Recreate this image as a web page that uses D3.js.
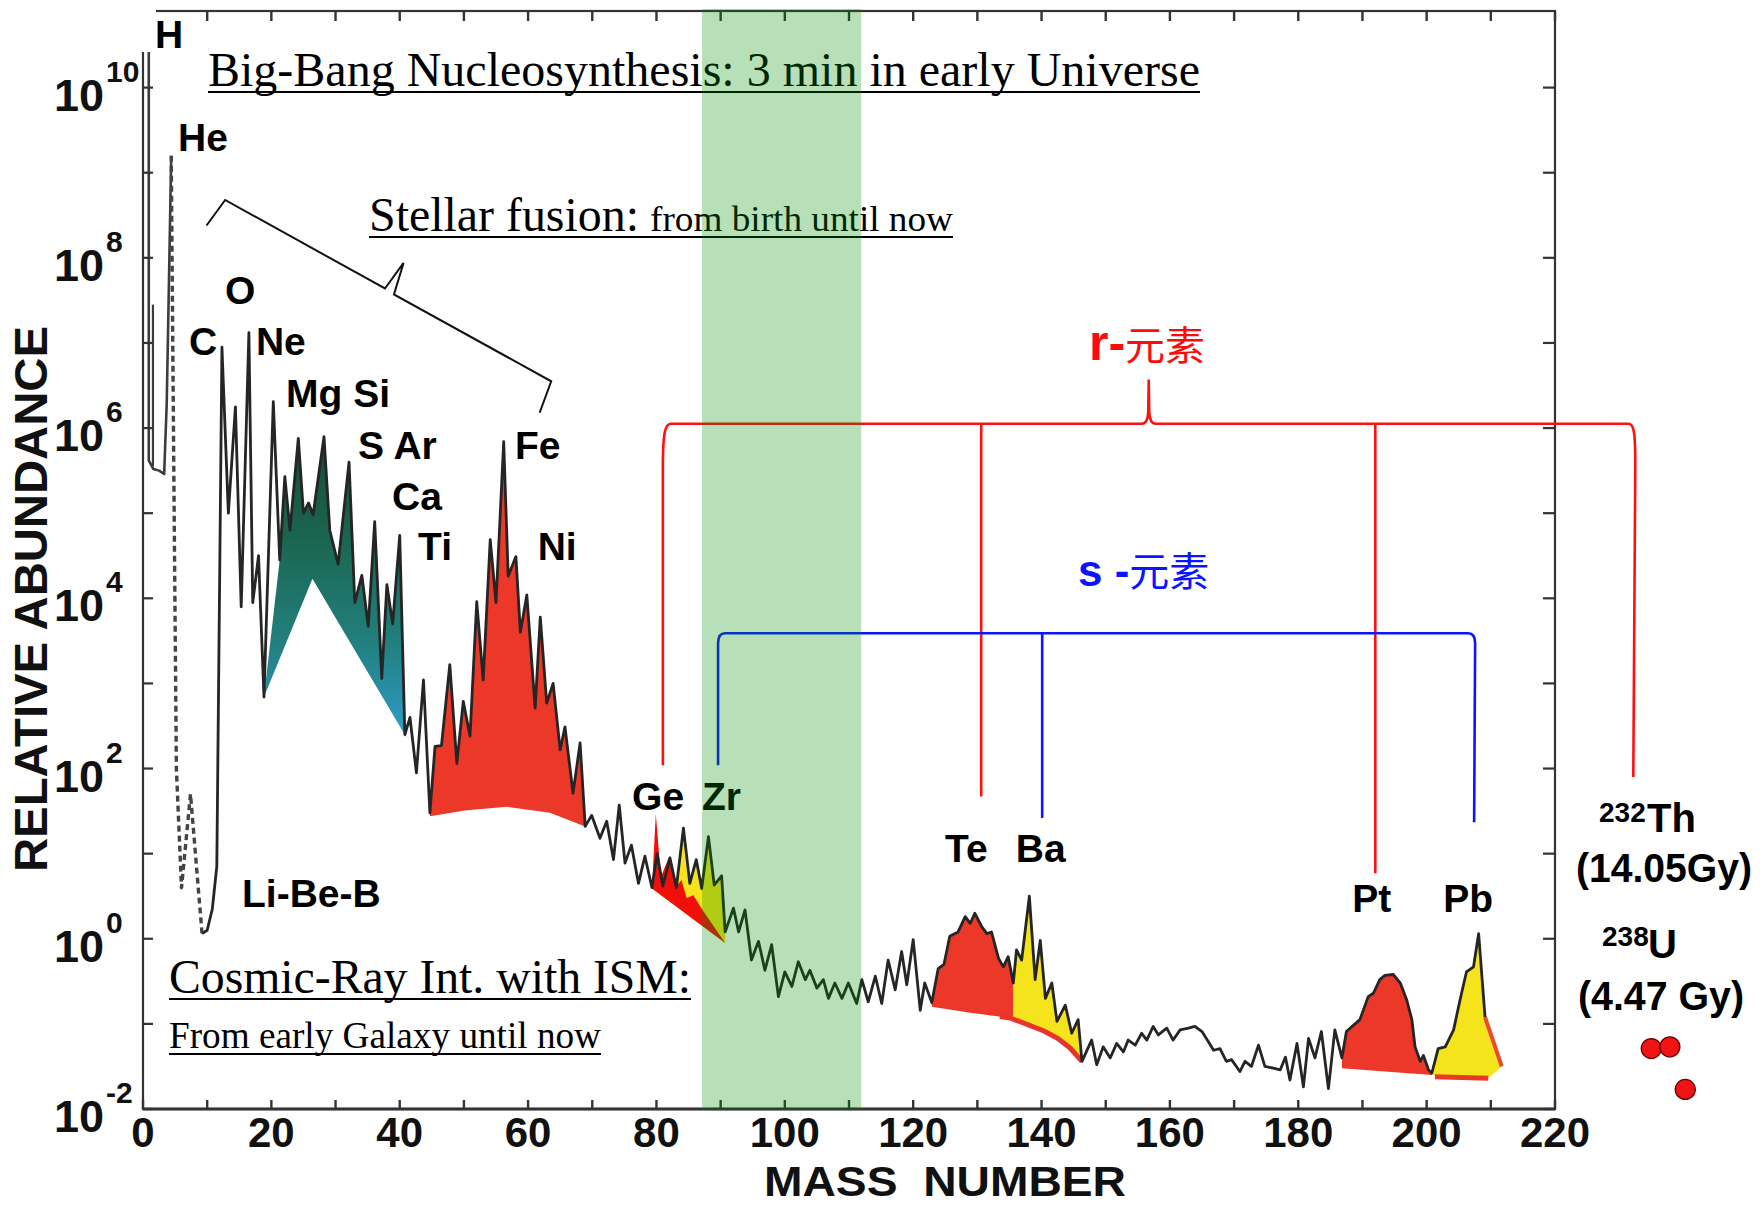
<!DOCTYPE html>
<html>
<head>
<meta charset="utf-8">
<script src="https://cdn.jsdelivr.net/npm/d3@7"></script>
<style>
  html, body { margin: 0; padding: 0; background: #fff; }
  svg { display: block; }
</style>
</head>
<body>
<svg id="chart" width="1764" height="1205"></svg>
<script>
// ---------- axis values ----------
const massTicks = [0, 10, 20, 30, 40, 50, 60, 70, 80, 90, 100, 110, 120, 130, 140, 150, 160, 170, 180, 190, 200, 210, 220];
const massLabels = [0, 20, 40, 60, 80, 100, 120, 140, 160, 180, 200, 220];
const decadeTicks = [-2, -1, 0, 1, 2, 3, 4, 5, 6, 7, 8, 9, 10];
const decadeLabels = [-2, 0, 2, 4, 6, 8, 10];

// ---------- abundance curve: [mass number, log10 relative abundance] ----------
const hydrogenSpike = [[0.9, 10.9], [0.9, 5.62], [1.6, 5.52], [2.5, 5.5], [3.3, 5.46], [3.7, 6.3], [4.4, 9.2]];
const deuteriumStroke = [[1.55, 7.45], [1.55, 5.55]];
const lithiumBerylliumDashed = [[4.4, 9.2], [4.8, 5.5], [5.2, 2.0], [6.0, 0.6], [7.4, 1.7], [9.2, 0.06]];

const lightElements = [
  [9.2, 0.06], [10.0, 0.1], [10.8, 0.35], [11.5, 0.85], [12.3, 6.95],
  [13.3, 5.0], [14.4, 6.25], [15.3, 3.9], [16.5, 7.12], [17.1, 3.95], [18.0, 4.5], [18.85, 2.84]
];
const alphaElements = [
  [20.3, 6.31], [21.3, 4.45], [22.1, 5.43], [22.9, 4.8], [24.2, 5.88], [25.0, 5.0], [25.8, 5.12], [26.5, 4.98],
  [28.2, 5.9], [29.1, 4.8], [30.4, 4.4], [32.1, 5.6], [33.0, 3.95], [34.1, 4.27], [35.1, 3.67], [36.1, 4.9],
  [37.2, 3.06], [38.0, 4.16], [38.9, 3.7], [40.0, 4.74], [40.8, 2.4], [41.6, 2.6], [42.6, 1.95], [43.7, 3.04]
];
const ironPeak = [
  [44.7, 1.48], [45.5, 2.26], [46.5, 2.27], [47.8, 3.22], [48.9, 2.06], [49.9, 2.79], [50.95, 2.38], [52.0, 3.96],
  [53.0, 3.04], [54.1, 4.69], [55.0, 3.95], [56.2, 5.84], [56.9, 4.26], [58.1, 4.49], [58.8, 3.6], [59.8, 4.04],
  [61.1, 2.71], [61.9, 3.78], [62.9, 2.77], [63.9, 3.0], [65.0, 2.22], [65.75, 2.49], [67.0, 1.71], [68.1, 2.3],
  [68.9, 1.32]
];
const firstPeakRegion = [
  [69.9, 1.45], [71.2, 1.18], [72.25, 1.38], [73.3, 0.93], [74.2, 1.57], [75.1, 0.89], [76.1, 1.1],
  [77.2, 0.65], [78.2, 0.97], [79.3, 0.6], [80.1, 1.0], [81.0, 0.62], [82.1, 0.95], [83.1, 0.6], [84.2, 1.3],
  [85.2, 0.65], [86.2, 0.93], [87.05, 0.59], [88.1, 1.2], [89.0, 0.63], [90.15, 0.74], [90.7, 0.08], [92.0, 0.36],
  [92.8, 0.08], [93.8, 0.34], [94.8, -0.25], [95.9, -0.03], [96.9, -0.37], [97.95, -0.07], [99.0, -0.68], [100.0, -0.39],
  [101.1, -0.56], [102.1, -0.27], [103.2, -0.48], [103.9, -0.37], [105.0, -0.58], [106.0, -0.48], [106.8, -0.7], [107.8, -0.52],
  [108.9, -0.7], [109.9, -0.52], [111.2, -0.76], [112.0, -0.48], [113.0, -0.74], [114.1, -0.44], [115.1, -0.76], [116.1, -0.25],
  [117.2, -0.6], [118.2, -0.15], [119.0, -0.54], [120.0, -0.01], [121.1, -0.84], [121.8, -0.52]
];
const secondPeakRegion = [
  [122.9, -0.75], [123.9, -0.35], [124.8, -0.3], [125.7, 0.03], [127.0, 0.08], [128.1, 0.26], [128.9, 0.18], [129.6, 0.3],
  [130.7, 0.14], [131.5, 0.06], [132.2, 0.08], [133.3, -0.23], [134.05, -0.33], [134.8, -0.21], [135.6, -0.52], [136.1, -0.13],
  [136.9, -0.25], [138.1, 0.5], [139.0, -0.48], [139.8, -0.02], [140.6, -0.7], [141.6, -0.52], [142.4, -0.97], [143.7, -0.78],
  [144.7, -1.11], [145.7, -0.95], [146.3, -1.44]
];
const rareEarthRegion = [
  [147.8, -1.19], [148.6, -1.48], [149.6, -1.27], [150.7, -1.4], [151.7, -1.23], [152.75, -1.33], [153.5, -1.19],
  [154.6, -1.25], [155.6, -1.11], [156.4, -1.19], [157.4, -1.03], [158.2, -1.13], [159.5, -1.05], [160.5, -1.19], [161.6, -1.07],
  [162.9, -1.05], [163.9, -1.03], [165.0, -1.09], [166.0, -1.21], [166.8, -1.31], [167.8, -1.29], [168.8, -1.44], [169.6, -1.42],
  [170.9, -1.56], [171.7, -1.44], [172.7, -1.5], [173.8, -1.25], [174.8, -1.5], [176.1, -1.52], [177.2, -1.54], [178.0, -1.39],
  [178.7, -1.66], [179.8, -1.23], [180.8, -1.74], [181.6, -1.17], [182.6, -1.4], [183.6, -1.09], [184.7, -1.76], [185.7, -1.07]
];
const thirdPeakRegion = [
  [186.8, -1.4], [187.5, -1.09], [189.6, -0.95], [190.9, -0.68], [191.7, -0.64], [192.7, -0.48], [193.5, -0.43], [194.8, -0.42],
  [195.9, -0.52], [196.9, -0.72], [197.7, -0.95], [198.2, -1.27], [199.0, -1.44], [199.5, -1.37], [200.3, -1.54], [200.8, -1.58],
  [201.8, -1.29], [202.9, -1.27], [204.2, -1.07], [205.2, -0.72], [206.2, -0.39], [207.3, -0.33], [208.1, 0.06], [209.1, -0.92]
];

// lower edges of the coloured production regions
const alphaEnvelope = [[41.0, 2.37], [26.4, 4.23], [18.85, 2.84]];
const ironBase = [[44.7, 1.44], [50.4, 1.51], [56.7, 1.55], [63.4, 1.48], [68.9, 1.32]];
const geDiagonal = [[79.3, 0.59], [90.7, -0.05]];
const geSpikes = [[79.3, 0.59], [79.9, 1.47], [80.7, 0.73], [82.0, 0.97], [83.05, 0.61], [83.9, 0.69], [84.7, 0.48],
                  [85.75, 0.51], [87.0, 0.36], [90.7, -0.05]];
const teBaBase = [[122.9, -0.8], [128.9, -0.87], [135.1, -0.93], [140.3, -1.08], [142.5, -1.17], [144.4, -1.28], [146.3, -1.44]];
const ptBase = [[186.8, -1.52], [200.8, -1.6]];
const pbBase = [[201.3, -1.62], [209.6, -1.64]];
const pbTail = [[209.1, -0.92], [211.7, -1.5]];

// Th / U markers beyond the mass axis
const actinideMarkers = [[235.0, -1.29], [237.9, -1.27], [240.3, -1.77]];

// shaded mass window
const massWindow = [87.1, 111.9];

// r- and s-process bracket ticks: [mass number, log10 of lower end]
const rLevel = 6.05, sLevel = 3.59;
const rMarks = [[81.0, 2.04], [130.6, 1.67], [192.0, 0.77], [232.2, 1.9]];
const sMarks = [[89.6, 2.04], [140.1, 1.42], [207.4, 1.37]];
const rBraceTip = [156.7, 6.57];

// stellar fusion brace
const fusionBrace = [[9.9, 8.38], [12.8, 8.68], [37.7, 7.64], [40.6, 7.94], [39.1, 7.57], [63.6, 6.55], [61.8, 6.18]];

// element names: [text, mass number, log10] for the left end of the baseline
const elementLabels = [
  ['H', 1.87, 10.47], ['He', 5.45, 9.25], ['O', 12.78, 7.46], ['C', 7.17, 6.86], ['Ne', 17.6, 6.86],
  ['Mg Si', 22.28, 6.25], ['S Ar', 33.5, 5.64], ['Ca', 38.8, 5.04], ['Ti', 42.85, 4.45], ['Fe', 57.96, 5.64],
  ['Ni', 61.5, 4.45], ['Li-Be-B', 15.43, 0.37], ['Ge', 76.2, 1.51], ['Zr', 87.1, 1.51], ['Te', 124.96, 0.9],
  ['Ba', 136.0, 0.9], ['Pt', 188.4, 0.31], ['Pb', 202.6, 0.31]
];

// ---------- scales ----------
const svg = d3.select('#chart');
const x = d3.scaleLinear().domain([0, 220]).range([143, 1555]);
const y = d3.scaleLog().domain([1e-2, Math.pow(10, 10.9)]).range([1109, 11]);
const P = e => Math.pow(10, e);
const px = d => x(d[0]);
const py = d => y(P(d[1]));
const line = d3.line().x(px).y(py);
const SANS = "'Liberation Sans', Arial, Helvetica, sans-serif";
const SERIF = "'Liberation Serif', 'Times New Roman', serif";
const CJK = "'Noto Sans CJK SC', 'Noto Sans CJK JP', sans-serif";

const mainCurve = [].concat(lightElements, alphaElements, ironPeak, firstPeakRegion,
                            secondPeakRegion, rareEarthRegion, thirdPeakRegion);

// part of a polyline between two mass numbers, interpolating the ends
function clipRange(pts, a0, a1) {
  const out = [];
  const at = (p, q, a) => [a, p[1] + (q[1] - p[1]) * (a - p[0]) / (q[0] - p[0])];
  for (let i = 0; i < pts.length; i++) {
    const p = pts[i], q = pts[i - 1];
    if (q && q[0] < a0 && p[0] > a0) out.push(at(q, p, a0));
    if (p[0] >= a0 && p[0] <= a1) out.push(p);
    if (q && q[0] < a1 && p[0] > a1) out.push(at(q, p, a1));
  }
  return out;
}
function region(top, base, a0, a1) {
  return clipRange(top, a0, a1).concat(clipRange(base, a0, a1).reverse());
}

svg.append('rect').attr('width', 1764).attr('height', 1205).attr('fill', '#fff');

// ---------- gradient for the alpha-element band ----------
const defs = svg.append('defs');
const grad = defs.append('linearGradient').attr('id', 'alphaFill')
  .attr('gradientUnits', 'userSpaceOnUse')
  .attr('x1', 0).attr('x2', 0).attr('y1', y(P(5.9))).attr('y2', y(P(2.4)));
[[0, '#164b37'], [0.35, '#1b6651'], [0.7, '#22807f'], [1, '#2f9ccb']].forEach(([o, c]) =>
  grad.append('stop').attr('offset', o).attr('stop-color', c));

// ---------- coloured regions ----------
const fills = svg.append('g');
const RED = '#ec3828', YELLOW = '#f5e41c';
fills.append('path').attr('d', line(clipRange(mainCurve, 21.3, 41.0).concat(alphaEnvelope)) + 'Z').attr('fill', 'url(#alphaFill)');
fills.append('path').attr('d', line(region(mainCurve, ironBase, 44.7, 68.9)) + 'Z').attr('fill', RED);
fills.append('path').attr('d', line(region(mainCurve, geDiagonal, 79.3, 90.7)) + 'Z').attr('fill', YELLOW);
fills.append('path').attr('d', line(geSpikes) + 'Z').attr('fill', '#f20f0a');
fills.append('path').attr('d', line(region(mainCurve, teBaBase, 122.9, 135.6)) + 'Z').attr('fill', RED);
fills.append('path').attr('d', line(region(mainCurve, teBaBase, 135.6, 146.3)) + 'Z').attr('fill', YELLOW);
fills.append('path').attr('d', line(region(mainCurve, ptBase, 186.8, 200.8)) + 'Z').attr('fill', RED);
fills.append('path').attr('d', line(clipRange(mainCurve, 200.8, 209.1).concat([pbTail[1]], pbBase.slice().reverse())) + 'Z').attr('fill', YELLOW);
// reddish rims on the lower edges
fills.append('path').attr('d', line(clipRange(teBaBase, 133.5, 146.3))).attr('fill', 'none').attr('stroke', '#e8342a').attr('stroke-width', 5);
fills.append('path').attr('d', line(pbBase)).attr('fill', 'none').attr('stroke', '#e83a22').attr('stroke-width', 5);
fills.append('path').attr('d', line(pbTail)).attr('fill', 'none').attr('stroke', '#ea4a2a').attr('stroke-width', 4);

// ---------- abundance curve ----------
const curves = svg.append('g').attr('fill', 'none').attr('stroke-linejoin', 'round');
curves.append('path').attr('d', line(hydrogenSpike)).attr('stroke', '#3c3c3c').attr('stroke-width', 2.6);
curves.append('path').attr('d', line(deuteriumStroke)).attr('stroke', '#3c3c3c').attr('stroke-width', 2.2);
curves.append('path').attr('d', line(lithiumBerylliumDashed)).attr('stroke', '#444').attr('stroke-width', 3.4).attr('stroke-dasharray', '6,4');
curves.append('path').attr('d', line(mainCurve)).attr('stroke', '#252525').attr('stroke-width', 2.8);

// ---------- frame and ticks ----------
const frame = svg.append('g').attr('stroke', '#333').attr('fill', 'none');
const [yBot, yTop] = y.range();
frame.append('rect').attr('x', x(0)).attr('y', yTop).attr('width', x(220) - x(0)).attr('height', yBot - yTop).attr('stroke-width', 2.2);
frame.append('line').attr('x1', x(0)).attr('x2', x(220)).attr('y1', yBot).attr('y2', yBot).attr('stroke-width', 3);
massTicks.forEach(a => {
  frame.append('line').attr('x1', x(a)).attr('x2', x(a)).attr('y1', yBot).attr('y2', yBot - 9).attr('stroke-width', 2.4);
  frame.append('line').attr('x1', x(a)).attr('x2', x(a)).attr('y1', yTop).attr('y2', yTop + 10).attr('stroke-width', 2.4);
});
decadeTicks.forEach(k => {
  frame.append('line').attr('x1', x(0)).attr('x2', x(0) + 10).attr('y1', y(P(k))).attr('y2', y(P(k))).attr('stroke-width', 2.2);
  frame.append('line').attr('x1', x(220)).attr('x2', x(220) - 12).attr('y1', y(P(k))).attr('y2', y(P(k))).attr('stroke-width', 2.2);
});

// tick labels
const labels = svg.append('g').attr('font-family', SANS).attr('font-weight', 'bold').attr('fill', '#111');
massLabels.forEach(a => {
  labels.append('text').attr('x', x(a)).attr('y', 1147).attr('text-anchor', 'middle').attr('font-size', 42).text(a);
});
decadeLabels.forEach(k => {
  const yy = y(P(k));
  labels.append('text').attr('x', 104).attr('y', yy + 23).attr('text-anchor', 'end').attr('font-size', 45).text('10');
  labels.append('text').attr('x', 106).attr('y', yy - 6).attr('font-size', 30).text(k < 0 ? '-' + Math.abs(k) : k);
});
labels.append('text').attr('x', 945).attr('y', 1196).attr('text-anchor', 'middle').attr('font-size', 42)
  .attr('textLength', 362).attr('lengthAdjust', 'spacingAndGlyphs')
  .attr('xml:space', 'preserve').text('MASS  NUMBER');
labels.append('text').attr('transform', 'translate(47,599) rotate(-90)').attr('text-anchor', 'middle').attr('font-size', 46)
  .attr('textLength', 546).attr('lengthAdjust', 'spacingAndGlyphs')
  .text('RELATIVE ABUNDANCE');

// ---------- stellar fusion brace ----------
svg.append('path').attr('d', line(fusionBrace)).attr('fill', 'none').attr('stroke', '#111').attr('stroke-width', 2);

// ---------- r-process bracket ----------
(function () {
  const yl = y(P(rLevel));
  const xL = x(rMarks[0][0]), ybL = py(rMarks[0]);
  const last = rMarks[rMarks.length - 1];
  const xR = x(last[0]), ybR = py(last);
  const tx = x(rBraceTip[0]), ty = y(P(rBraceTip[1]));
  const d = `M${xL},${ybL} L${xL},${yl + 44} C${xL},${yl + 10} ${xL + 2},${yl} ${xL + 8},${yl}` +
            ` L${tx - 7},${yl} Q${tx - 1},${yl} ${tx - 0.5},${yl - 12} L${tx},${ty}` +
            ` L${tx + 0.5},${yl - 12} Q${tx + 1},${yl} ${tx + 7},${yl}` +
            ` L${xR - 5},${yl} C${xR},${yl} ${xR + 2},${yl + 5} ${xR + 2},${yl + 40} L${xR},${ybR}`;
  const g = svg.append('g').attr('stroke', '#ff1010').attr('fill', 'none').attr('stroke-width', 2.6);
  g.append('path').attr('d', d);
  rMarks.slice(1, -1).forEach(m => {
    g.append('line').attr('x1', x(m[0])).attr('x2', x(m[0])).attr('y1', yl).attr('y2', py(m));
  });
})();

// ---------- s-process bracket ----------
(function () {
  const yl = y(P(sLevel));
  const xL = x(sMarks[0][0]), ybL = py(sMarks[0]);
  const last = sMarks[sMarks.length - 1];
  const xR = x(last[0]), ybR = py(last);
  const d = `M${xL},${ybL} L${xL},${yl + 10} Q${xL},${yl} ${xL + 7},${yl} L${xR - 6},${yl} Q${xR + 1},${yl} ${xR + 1},${yl + 10} L${xR},${ybR}`;
  const g = svg.append('g').attr('stroke', '#0a14ff').attr('fill', 'none').attr('stroke-width', 2.6);
  g.append('path').attr('d', d);
  sMarks.slice(1, -1).forEach(m => {
    g.append('line').attr('x1', x(m[0])).attr('x2', x(m[0])).attr('y1', yl).attr('y2', py(m));
  });
})();

// ---------- element labels ----------
const el = svg.append('g').attr('font-family', SANS).attr('font-weight', 'bold').attr('font-size', 39).attr('fill', '#000');
elementLabels.forEach(([t, a, e]) => {
  if (t === 'H') {
    // white patch behind the hydrogen label at the frame corner
    el.append('rect').attr('x', 128).attr('y', 0).attr('width', 28).attr('height', 52).attr('fill', '#fff');
  }
  el.append('text').attr('x', x(a)).attr('y', y(P(e))).text(t);
});

// ---------- serif annotations ----------
const ann = svg.append('g').attr('font-family', SERIF).attr('fill', '#000');
function underlined(txt, x0, base, size, width) {
  ann.append('text').attr('x', x0).attr('y', base).attr('font-size', size)
    .attr('textLength', width).attr('lengthAdjust', 'spacingAndGlyphs').text(txt);
  ann.append('line').attr('x1', x0).attr('x2', x0 + width).attr('y1', base + 6).attr('y2', base + 6)
    .attr('stroke', '#000').attr('stroke-width', 2);
}
underlined('Big-Bang Nucleosynthesis: 3 min in early Universe', 208, 86, 48, 992);
ann.append('text').attr('x', 369).attr('y', 231).attr('font-size', 48).attr('textLength', 270).attr('lengthAdjust', 'spacingAndGlyphs').text('Stellar fusion:');
ann.append('text').attr('x', 650).attr('y', 231).attr('font-size', 36).attr('textLength', 303).attr('lengthAdjust', 'spacingAndGlyphs').text('from birth until now');
ann.append('line').attr('x1', 369).attr('x2', 953).attr('y1', 237).attr('y2', 237).attr('stroke', '#000').attr('stroke-width', 2);
underlined('Cosmic-Ray Int. with ISM:', 169, 993, 48, 522);
underlined('From early Galaxy until now', 169, 1048, 37, 432);

// process names
const rText = svg.append('text').attr('x', 1089).attr('y', 360).attr('fill', '#ff0a0a');
rText.append('tspan').attr('font-family', SANS).attr('font-weight', 'bold').attr('font-size', 50).text('r-');
rText.append('tspan').attr('font-family', CJK).attr('font-size', 40).text('元素');
const sText = svg.append('text').attr('x', 1078).attr('y', 586).attr('fill', '#0a14ff').attr('xml:space', 'preserve');
sText.append('tspan').attr('font-family', SANS).attr('font-weight', 'bold').attr('font-size', 44).text('s -');
sText.append('tspan').attr('font-family', CJK).attr('font-size', 40).text('元素');

// ---------- shaded mass window (translucent, tints what lies beneath) ----------
svg.append('rect')
  .attr('x', x(massWindow[0])).attr('width', x(massWindow[1]) - x(massWindow[0]))
  .attr('y', 9).attr('height', yBot - 9)
  .attr('fill', 'rgb(0,145,0)').attr('fill-opacity', 0.28);

// ---------- Th / U ----------
const act = svg.append('g').attr('font-family', SANS).attr('font-weight', 'bold').attr('fill', '#000');
act.append('text').attr('x', 1599).attr('y', 822).attr('font-size', 28).text('232');
act.append('text').attr('x', 1647).attr('y', 832).attr('font-size', 40).text('Th');
act.append('text').attr('x', 1576).attr('y', 882).attr('font-size', 40).attr('textLength', 176).attr('lengthAdjust', 'spacingAndGlyphs').text('(14.05Gy)');
act.append('text').attr('x', 1602).attr('y', 946).attr('font-size', 28).text('238');
act.append('text').attr('x', 1648).attr('y', 958).attr('font-size', 40).text('U');
act.append('text').attr('x', 1578).attr('y', 1010).attr('font-size', 40).attr('textLength', 166).attr('lengthAdjust', 'spacingAndGlyphs')
  .attr('xml:space', 'preserve').text('(4.47 Gy)');

svg.append('g').selectAll('circle').data(actinideMarkers).join('circle')
  .attr('cx', px).attr('cy', py).attr('r', 10)
  .attr('fill', '#f01414').attr('stroke', '#6a0000').attr('stroke-width', 1.3);
</script>
</body>
</html>
